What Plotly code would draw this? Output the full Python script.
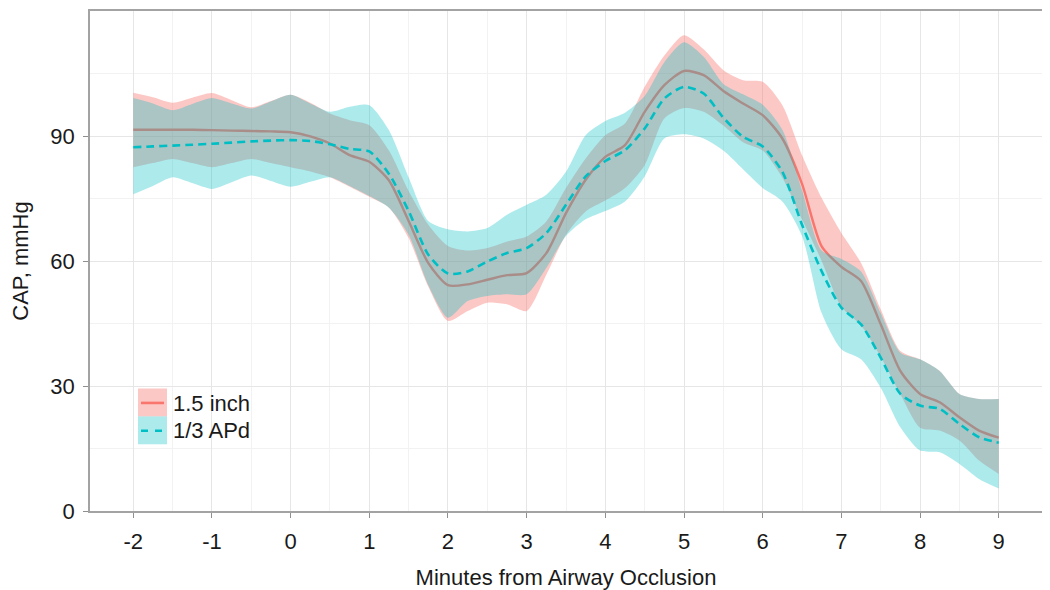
import plotly.graph_objects as go

# ---- data ----
minutes = [-2, -1.75, -1.5, -1.25, -1, -0.75, -0.5, -0.25, 0, 0.25, 0.5, 0.75, 1, 1.25, 1.5, 1.75,
           2, 2.25, 2.5, 2.75, 3, 3.25, 3.5, 3.75, 4, 4.25, 4.5, 4.75, 5, 5.25, 5.5, 5.75,
           6, 6.25, 6.5, 6.75, 7, 7.25, 7.5, 7.75, 8, 8.25, 8.5, 8.75, 9]

inch_mean = [91.5, 91.5, 91.5, 91.5, 91.4, 91.3, 91.2, 91.1, 90.9, 89.9, 88.2, 85.4, 83.8, 79.3, 69.6, 59.5,
             54.2, 54.4, 55.5, 56.6, 57.1, 61.9, 71.5, 79.5, 85.0, 87.8, 95.8, 102.2, 105.6, 104.6, 100.8, 97.8,
             95.0, 89.4, 78.5, 63.5, 58.6, 55.2, 44.8, 33.6, 28.1, 26.1, 22.5, 19.3, 17.6]
inch_upper = [100.4, 99.3, 98.0, 99.2, 100.3, 98.6, 96.9, 98.4, 99.9, 98.0, 95.4, 93.8, 92.6, 86.5, 76.8, 68.7,
              63.6, 62.5, 63.1, 64.7, 65.9, 69.5, 77.5, 84.6, 90.2, 93.0, 101.8, 109.3, 114.2, 110.8, 105.8, 103.4,
              103.0, 97.4, 85.4, 75.1, 66.7, 59.5, 48.4, 38.4, 36.4, 33.6, 28.1, 26.9, 26.9]
inch_lower = [82.5, 83.5, 84.5, 83.5, 82.5, 83.5, 84.5, 83.5, 82.5, 81.5, 80.1, 77.8, 75.4, 72.8, 65.5, 53.8,
              45.6, 48.0, 50.0, 49.6, 48.0, 56.7, 66.3, 71.9, 74.5, 77.5, 83.0, 94.2, 96.7, 95.8, 92.5, 88.5,
              86.5, 80.0, 70.0, 60.0, 49.0, 44.5, 37.0, 28.0, 20.0, 19.3, 16.9, 12.1, 8.9]

apd_mean = [87.3, 87.5, 87.7, 87.9, 88.15, 88.4, 88.7, 88.9, 89.0, 88.8, 88.0, 86.9, 86.3, 80.9, 72.0, 61.5,
            57.0, 57.5, 59.9, 61.9, 63.1, 66.7, 73.5, 80.3, 84.0, 86.6, 91.8, 99.0, 101.8, 100.2, 94.4, 89.8,
            87.5, 81.4, 68.7, 57.5, 48.8, 44.8, 36.8, 28.1, 25.3, 24.5, 20.9, 17.7, 16.4]
apd_upper = [99.1, 97.8, 96.2, 97.7, 99.1, 97.8, 96.6, 98.3, 99.9, 97.8, 95.8, 97.0, 97.4, 91.4, 80.1, 69.6,
             67.6, 67.1, 67.9, 71.1, 73.5, 75.9, 81.4, 90.2, 93.6, 95.6, 99.6, 107.7, 112.5, 109.0, 102.5, 100.0,
             97.5, 91.5, 77.0, 62.5, 60.5, 57.5, 47.5, 38.0, 36.4, 33.6, 28.1, 26.9, 26.9]
apd_lower = [76.0, 78.0, 80.1, 78.7, 77.3, 78.9, 80.5, 79.2, 77.8, 79.0, 80.1, 78.0, 75.6, 72.8, 66.3, 54.2,
             46.4, 50.4, 51.6, 52.0, 52.0, 58.3, 66.0, 70.0, 72.0, 74.3, 80.3, 89.4, 90.4, 89.4, 86.5, 82.0,
             77.5, 74.3, 66.0, 47.5, 38.8, 36.4, 29.6, 20.1, 14.5, 14.1, 11.3, 7.7, 5.4]

x_ticks = [-2, -1, 0, 1, 2, 3, 4, 5, 6, 7, 8, 9]
x_minor = [-1.5, -0.5, 0.5, 1.5, 2.5, 3.5, 4.5, 5.5, 6.5, 7.5, 8.5]
y_ticks = [0, 30, 60, 90]
y_minor = [15, 45, 75, 105]
series_names = ["1.5 inch", "1/3 APd"]

# ---- styling ----
RED = "#F8766D"
CYAN = "#00BFC4"
RED_FILL = "rgba(248,118,109,0.40)"
CYAN_FILL = "rgba(0,191,196,0.32)"
FONT = "Liberation Sans, Arial, Helvetica, sans-serif"
TXT = "#1a1a1a"
FS = 22

# the page body adds an 8px offset; the figure is sized so the plot lands where the reference has it
OFF = 8
W, H = 1050 - OFF, 590 - OFF
ML, MR, MT, MB = 82, 8, 1, 79

fig = go.Figure()
SM = 0.7

# 1.5 inch ribbon + line
fig.add_trace(go.Scatter(x=minutes, y=inch_upper, mode="lines", line=dict(width=0, shape="spline", smoothing=SM),
                         hoverinfo="skip", showlegend=False))
fig.add_trace(go.Scatter(x=minutes, y=inch_lower, mode="lines", line=dict(width=0, shape="spline", smoothing=SM),
                         fill="tonexty", fillcolor=RED_FILL, hoverinfo="skip", showlegend=False))
fig.add_trace(go.Scatter(x=minutes, y=inch_mean, mode="lines", name=series_names[0],
                         line=dict(color=RED, width=2.4, shape="spline", smoothing=SM), showlegend=False))
# 1/3 APd ribbon + line
fig.add_trace(go.Scatter(x=minutes, y=apd_upper, mode="lines", line=dict(width=0, shape="spline", smoothing=SM),
                         hoverinfo="skip", showlegend=False))
fig.add_trace(go.Scatter(x=minutes, y=apd_lower, mode="lines", line=dict(width=0, shape="spline", smoothing=SM),
                         fill="tonexty", fillcolor=CYAN_FILL, hoverinfo="skip", showlegend=False))
fig.add_trace(go.Scatter(x=minutes, y=apd_mean, mode="lines", name=series_names[1],
                         line=dict(color=CYAN, width=2.6, dash="8px,5px", shape="spline", smoothing=SM),
                         showlegend=False))

# ---- manual legend (keys as filled boxes, like the reference); positions in page pixels ----
PW, PH = W - ML - MR, H - MT - MB
def pxx(p):
    return (p - OFF - ML) / PW
def pyy(p):
    return (H - MB - (p - OFF)) / PH

shapes = [
    dict(type="rect", xref="paper", yref="paper", x0=pxx(138), x1=pxx(167), y0=pyy(416), y1=pyy(388),
         fillcolor=RED_FILL, line=dict(width=0), layer="above"),
    dict(type="rect", xref="paper", yref="paper", x0=pxx(138), x1=pxx(167), y0=pyy(444), y1=pyy(416),
         fillcolor=CYAN_FILL, line=dict(width=0), layer="above"),
    dict(type="line", xref="paper", yref="paper", x0=pxx(141), x1=pxx(164), y0=pyy(402.5), y1=pyy(402.5),
         line=dict(color=RED, width=2.6), layer="above"),
    dict(type="line", xref="paper", yref="paper", x0=pxx(141), x1=pxx(164), y0=pyy(430.5), y1=pyy(430.5),
         line=dict(color=CYAN, width=2.6, dash="7px,7px"), layer="above"),
]
fig.update_layout(shapes=shapes)

for name, yc in zip(series_names, [403, 430.5]):
    fig.add_annotation(xref="paper", yref="paper", x=pxx(171), y=pyy(yc), text=name, showarrow=False,
                       xanchor="left", yanchor="middle", font=dict(family=FONT, size=FS, color=TXT))

axis_common = dict(showline=True, linecolor="#A3A3A3", linewidth=1.5, mirror=True,
                   ticks="outside", ticklen=5, tickwidth=1.2, tickcolor="#8F8F8F",
                   showgrid=True, gridcolor="#E6E6E6", gridwidth=1, zeroline=False,
                   tickfont=dict(family=FONT, size=FS, color=TXT))

fig.update_xaxes(range=[-2.55, 9.55], tickmode="array", tickvals=x_ticks,
                 ticktext=[str(v) for v in x_ticks], ticklabelstandoff=5,
                 minor=dict(tickvals=x_minor, showgrid=True, gridcolor="#F2F2F2", gridwidth=1, ticks=""),
                 title=dict(text="Minutes from Airway Occlusion", font=dict(family=FONT, size=FS, color=TXT),
                            standoff=16),
                 **axis_common)
fig.update_yaxes(range=[0, 120], tickmode="array", tickvals=y_ticks, ticklabelstandoff=4,
                 minor=dict(tickvals=y_minor, showgrid=True, gridcolor="#F2F2F2", gridwidth=1, ticks=""),
                 title=dict(text="CAP, mmHg", font=dict(family=FONT, size=FS, color=TXT), standoff=16),
                 **axis_common)

fig.update_layout(width=W, height=H, margin=dict(l=ML, r=MR, t=MT, b=MB, pad=0),
                  plot_bgcolor="white", paper_bgcolor="white", showlegend=False,
                  font=dict(family=FONT, size=FS, color=TXT))

fig.write_html("out.html")
